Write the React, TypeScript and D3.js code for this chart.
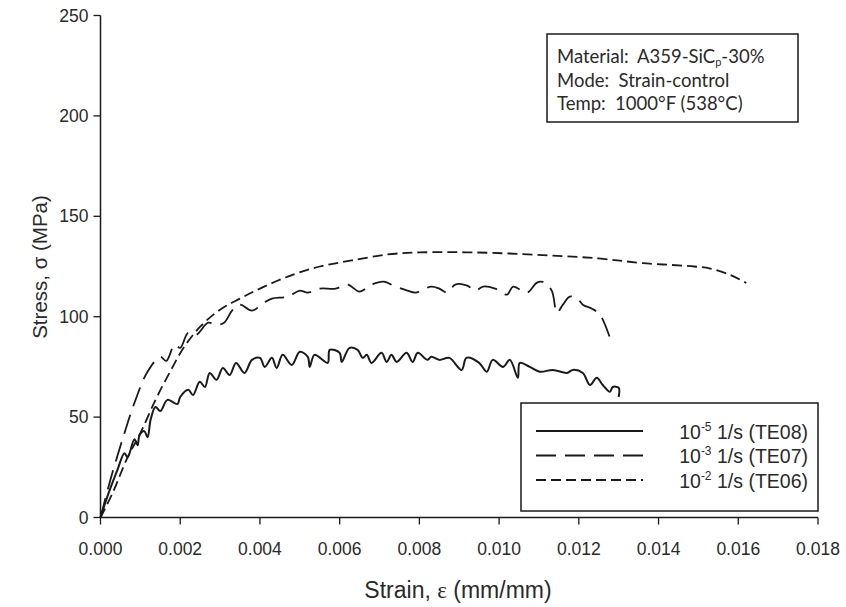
import React, { useEffect } from 'react';
import * as d3 from 'd3';

// tick values
const xTicks = [0, 0.002, 0.004, 0.006, 0.008, 0.010, 0.012, 0.014, 0.016, 0.018];
const yTicks = [0, 50, 100, 150, 200, 250];

// 10^-5 1/s (TE08), solid
const strainTE08 = [0, 0.0002, 0.00043, 0.0006, 0.00068, 0.00085, 0.00093, 0.00098, 0.0011, 0.00118, 0.00126, 0.00138, 0.0015, 0.00168, 0.00193, 0.002, 0.0022, 0.00232, 0.00249, 0.00262, 0.00274, 0.00291, 0.00307, 0.00324, 0.0034, 0.00361, 0.0038, 0.004, 0.00412, 0.0043, 0.00442, 0.00457, 0.0048, 0.005, 0.0052, 0.00525, 0.00537, 0.0057, 0.00575, 0.006, 0.00605, 0.00625, 0.00645, 0.00658, 0.00668, 0.0068, 0.00705, 0.00718, 0.0073, 0.00743, 0.00768, 0.00783, 0.00796, 0.0082, 0.0083, 0.0085, 0.00875, 0.00906, 0.00918, 0.0095, 0.00969, 0.00984, 0.0101, 0.01027, 0.01047, 0.01052, 0.01077, 0.01102, 0.01135, 0.0117, 0.01185, 0.0121, 0.01228, 0.01245, 0.0126, 0.01278, 0.01285, 0.013, 0.0130];
const stressTE08 = [0, 12, 24, 32, 30, 39, 36, 41, 43, 40, 49, 55, 53, 58.6, 56.5, 60, 63.6, 61, 67.6, 65, 72, 68.6, 74.5, 71, 77, 72, 78.5, 79.5, 75, 79.5, 74.5, 81, 76, 82.5, 80, 75, 81, 77, 83.5, 82, 77.5, 84.5, 83.5, 79.5, 81, 77, 82, 77.5, 81, 77.5, 82, 77.5, 82, 78.5, 80, 78.5, 79.5, 73.5, 79.5, 77, 72.6, 78.5, 75, 78.5, 69.6, 77, 75, 72.6, 73.5, 72, 73.5, 72, 66, 69.6, 66, 62.6, 65, 64.6, 60];

// 10^-3 1/s (TE07), long dash
const strainTE07 = [0, 0.00025, 0.00055, 0.00085, 0.00118, 0.0015, 0.00165, 0.00186, 0.002, 0.0022, 0.0024, 0.0027, 0.0029, 0.0031, 0.0033, 0.0035, 0.0038, 0.0041, 0.0043, 0.0047, 0.005, 0.0052, 0.0055, 0.0059, 0.0062, 0.0065, 0.0068, 0.0071, 0.0074, 0.0077, 0.0079, 0.0083, 0.0085, 0.0087, 0.0089, 0.0092, 0.0094, 0.0096, 0.0099, 0.0102, 0.01035, 0.0107, 0.01095, 0.0111, 0.01132, 0.01145, 0.0116, 0.01177, 0.01195, 0.0121, 0.01233, 0.01253, 0.01278];
const stressTE07 = [0, 18.9, 38.8, 57, 72.6, 80, 78, 86, 84.5, 92, 91, 97, 96, 97, 103, 106, 103, 107, 109, 110, 113, 112, 114, 114, 116, 112.5, 116, 117.5, 115, 113, 112, 115, 114, 112, 116, 115.5, 113, 115, 114, 111, 115, 112, 117, 117.3, 113, 102, 106, 110, 109.3, 106, 104, 101, 89.5];

// 10^-2 1/s (TE06), dash
const strainTE06 = [0, 0.0003, 0.00068, 0.001, 0.00138, 0.00173, 0.0021, 0.0025, 0.003, 0.0035, 0.004, 0.0047, 0.0055, 0.0063, 0.0072, 0.008, 0.0094, 0.0111, 0.0125, 0.0136, 0.0149, 0.0153, 0.0158, 0.0162];
const stressTE06 = [0, 12, 30, 42, 58.6, 72, 85, 95, 103.5, 109, 114, 120, 125, 128, 131, 132, 132, 130.7, 129, 126.7, 125, 124, 120.8, 116.8];

const legendRates = ['-5', '-3', '-2'];
const legendIds = ['TE08', 'TE07', 'TE06'];
const infoLines = ['Material:', 'Mode:  Strain-control', 'Temp:  1000°F (538°C)'];

const W = 846;
const H = 607;
const ink = '#1a1a1a';
const txt = '#2a2a2a';
const sans = 'Liberation Sans, Arial, sans-serif';

export default function App() {
  useEffect(() => {
    document.body.style.margin = '0';
  }, []);

  const x = d3.scaleLinear().domain([0, 0.018]).range([100.5, 818]);
  const y = d3.scaleLinear().domain([0, 250]).range([517.5, 15.5]);

  const line = d3.line<[number, number]>()
    .x(d => x(d[0]))
    .y(d => y(d[1]))
    .curve(d3.curveCatmullRom.alpha(0.5));
  const pts = (s: number[], v: number[]) => s.map((e, i) => [e, v[i]] as [number, number]);

  const series = [
    { d: pts(strainTE08, stressTE08), dash: '', w: 2 },
    { d: pts(strainTE07, stressTE07), dash: '20,9', w: 1.8 },
    { d: pts(strainTE06, stressTE06), dash: '10,5', w: 1.8 },
  ];

  const tickFont = { fontFamily: sans, fontSize: 17.5, fill: txt };

  return (
    <svg width={W} height={H} style={{ display: 'block', background: '#fff' }}>
      {/* axes */}
      <line x1={x(0)} x2={x(0)} y1={y(0)} y2={y(250)} stroke={ink} strokeWidth={1.5} />
      <line x1={x(0)} x2={x(0.018)} y1={y(0)} y2={y(0)} stroke={ink} strokeWidth={1.5} />
      {yTicks.map(t => (
        <g key={'y' + t}>
          <line x1={x(0) - 7} x2={x(0)} y1={y(t)} y2={y(t)} stroke={ink} strokeWidth={1.3} />
          <text x={x(0) - 12} y={y(t)} dy="0.35em" textAnchor="end" {...tickFont}>{t}</text>
        </g>
      ))}
      {xTicks.map(t => (
        <g key={'x' + t}>
          <line x1={x(t)} x2={x(t)} y1={y(0)} y2={y(0) + 7} stroke={ink} strokeWidth={1.3} />
          <text x={x(t)} y={y(0) + 31} dy="0.35em" textAnchor="middle" {...tickFont}>{d3.format('.3f')(t)}</text>
        </g>
      ))}
      <text transform={`translate(40,${267}) rotate(-90)`} textAnchor="middle" dy="0.35em"
        style={{ fontFamily: sans, fontSize: 20.5, fill: txt }}>
        Stress, σ (MPa)
      </text>
      <text x={458} y={590} textAnchor="middle" dy="0.35em"
        style={{ fontFamily: sans, fontSize: 23, fill: txt }}>
        Strain, <tspan fontFamily="Liberation Serif, serif">ε</tspan> (mm/mm)
      </text>

      {/* curves */}
      {series.map((s, i) => (
        <path key={i} d={line(s.d) || ''} fill="none" stroke={ink} strokeWidth={s.w}
          strokeDasharray={s.dash || undefined} strokeLinejoin="round" />
      ))}

      {/* info box */}
      <rect x={547} y={34} width={251} height={88} fill="#fff" stroke={ink} strokeWidth={1.5} />
      <g style={{ fontFamily: 'Lato, sans-serif', fontSize: 18.5, fill: txt }}>
        <text x={557} y={63}>{infoLines[0]}</text>
        <text x={637} y={63}>
          A359-SiC<tspan fontSize={11} dy={3}>p</tspan><tspan dy={-3}>-30%</tspan>
        </text>
        <text x={557} y={87} style={{ whiteSpace: 'pre' }}>{infoLines[1]}</text>
        <text x={557} y={110} style={{ whiteSpace: 'pre' }}>{infoLines[2]}</text>
      </g>

      {/* legend */}
      <rect x={521} y={403} width={297} height={108} fill="#fff" stroke={ink} strokeWidth={1.5} />
      {series.map((s, i) => {
        const ly = 431 + i * 24.5;
        return (
          <g key={'l' + i}>
            <line x1={536} x2={643} y1={ly} y2={ly} stroke={ink} strokeWidth={s.w}
              strokeDasharray={s.dash || undefined} />
            <text x={808} y={ly} dy="0.4em" textAnchor="end"
              style={{ fontFamily: sans, fontSize: 19.5, fill: txt }}>
              10<tspan fontSize={12} dy={-8}>{legendRates[i]}</tspan><tspan dy={8}>{' 1/s (' + legendIds[i] + ')'}</tspan>
            </text>
          </g>
        );
      })}
    </svg>
  );
}
